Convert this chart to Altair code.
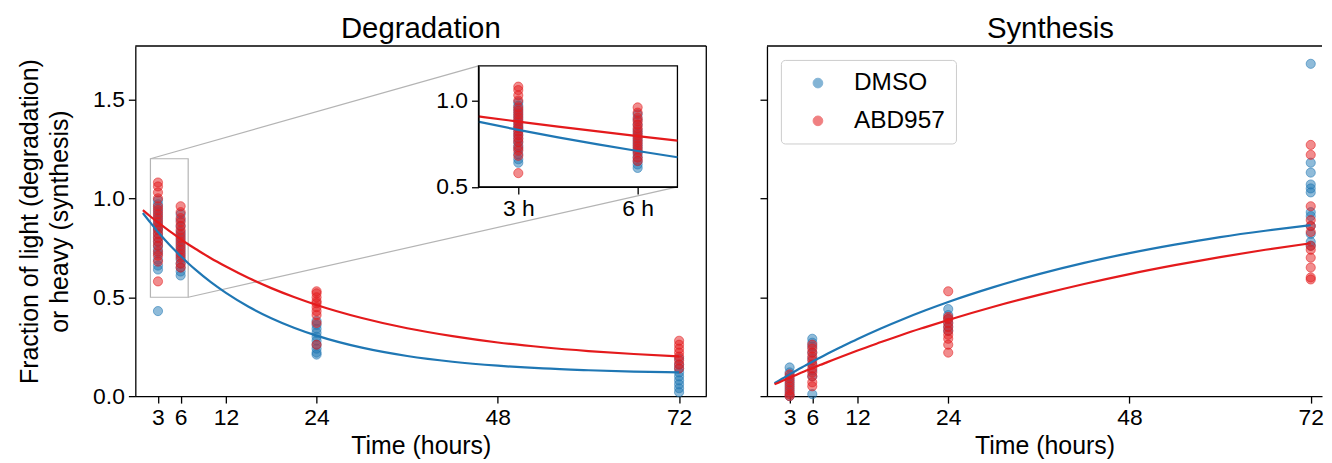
import altair as alt
import pandas as pd

FONT = "Liberation Sans"
BLUE = "#1f77b4"
RED = "#e41a1c"
GRAY = "#b4b4b4"

treatments = ["DMSO", "ABD957"]
treatment_colors = [BLUE, RED]
times = [3, 6, 24, 72]

# ---- Degradation: fraction of light label
deg_dmso_3h = [0.43, 0.64, 0.66, 0.69, 0.72, 0.74, 0.76, 0.78, 0.80, 0.82, 0.84, 0.85, 0.87, 0.89, 0.91, 0.93, 0.95, 0.97, 0.99]
deg_abd_3h = [0.58, 0.68, 0.71, 0.73, 0.76, 0.78, 0.80, 0.82, 0.84, 0.86, 0.88, 0.90, 0.92, 0.94, 0.96, 1.00, 1.03, 1.06, 1.08]
deg_dmso_6h = [0.61, 0.63, 0.65, 0.67, 0.69, 0.71, 0.73, 0.75, 0.77, 0.79, 0.81, 0.83, 0.86, 0.89, 0.92]
deg_abd_6h = [0.65, 0.67, 0.70, 0.72, 0.74, 0.76, 0.78, 0.80, 0.82, 0.84, 0.86, 0.88, 0.90, 0.93, 0.96]
deg_dmso_24h = [0.21, 0.22, 0.24, 0.26, 0.28, 0.30, 0.32, 0.34, 0.36, 0.38]
deg_abd_24h = [0.26, 0.37, 0.41, 0.43, 0.45, 0.47, 0.48, 0.50, 0.52, 0.53]
deg_dmso_72h = [0.02, 0.04, 0.06, 0.08, 0.10, 0.12, 0.14, 0.16, 0.19]
deg_abd_72h = [0.14, 0.16, 0.18, 0.20, 0.22, 0.24, 0.26, 0.28]

# ---- Synthesis: fraction of heavy label
syn_dmso_3h = [0.00, 0.02, 0.04, 0.06, 0.08, 0.10, 0.12, 0.145]
syn_abd_3h = [0.00, 0.01, 0.03, 0.05, 0.07, 0.09, 0.11]
syn_dmso_6h = [0.01, 0.10, 0.13, 0.16, 0.19, 0.22, 0.25, 0.27, 0.29]
syn_abd_6h = [0.05, 0.07, 0.10, 0.12, 0.14, 0.16, 0.18, 0.20, 0.22, 0.24, 0.26]
syn_dmso_24h = [0.33, 0.35, 0.37, 0.39, 0.41, 0.44]
syn_abd_24h = [0.22, 0.26, 0.29, 0.31, 0.33, 0.35, 0.37, 0.39, 0.40, 0.53]
syn_dmso_72h = [0.76, 0.78, 0.82, 0.86, 0.91, 0.93, 1.03, 1.05, 1.07, 1.13, 1.18, 1.68]
syn_abd_72h = [0.59, 0.60, 0.65, 0.70, 0.74, 0.76, 0.83, 0.86, 0.89, 0.96, 1.22, 1.27]

# ---- Fitted curves
fit_t = [1, 2, 3, 4, 5, 6, 7, 8, 10, 12, 15, 18, 21, 24, 30, 36, 42, 48, 54, 60, 66, 72]
deg_dmso_fit = [0.926, 0.877, 0.830, 0.787, 0.746, 0.708, 0.672, 0.638, 0.576, 0.522, 0.452, 0.394, 0.346, 0.306, 0.245, 0.203, 0.174, 0.154, 0.140, 0.131, 0.124, 0.120]
deg_abd_fit = [0.940, 0.908, 0.878, 0.849, 0.821, 0.794, 0.768, 0.744, 0.697, 0.655, 0.597, 0.546, 0.501, 0.461, 0.395, 0.343, 0.303, 0.271, 0.247, 0.228, 0.213, 0.201]
syn_dmso_fit = [0.065, 0.088, 0.110, 0.132, 0.153, 0.174, 0.194, 0.214, 0.252, 0.289, 0.341, 0.389, 0.434, 0.476, 0.551, 0.617, 0.674, 0.723, 0.766, 0.804, 0.836, 0.864]
syn_abd_fit = [0.060, 0.077, 0.093, 0.110, 0.126, 0.141, 0.157, 0.172, 0.202, 0.231, 0.272, 0.312, 0.349, 0.385, 0.452, 0.512, 0.567, 0.617, 0.662, 0.703, 0.740, 0.773]

# ---- Axes / ticks
x_ticks = [3, 6, 12, 24, 48, 72]
y_ticks = [0.0, 0.5, 1.0, 1.5]
x_domain = [0, 75.6]
y_domain = [0, 1.77]
inset_x_domain = [2, 7]
inset_y_domain = [0.5, 1.2]
inset_x_ticks = [3, 6]
inset_y_ticks = [0.5, 1.0]

# ---- Layout (pixels)
W, H = 574, 352
W2 = 558
IX0, IX1, IY0, IY1 = 345, 545, 20, 141.7
x_domain_right = [0, x_domain[1] * W2 / W]


def px(t):
    return t / x_domain[1] * W


def py(v):
    return H - v / y_domain[1] * H


def build_points(groups):
    rows = []
    for tr, series in groups:
        for t, vals in zip(times, series):
            for v in vals:
                rows.append({"treatment": tr, "t": t, "y": v})
    return pd.DataFrame(rows)


deg_pts = build_points([
    ("DMSO", [deg_dmso_3h, deg_dmso_6h, deg_dmso_24h, deg_dmso_72h]),
    ("ABD957", [deg_abd_3h, deg_abd_6h, deg_abd_24h, deg_abd_72h]),
])
syn_pts = build_points([
    ("DMSO", [syn_dmso_3h, syn_dmso_6h, syn_dmso_24h, syn_dmso_72h]),
    ("ABD957", [syn_abd_3h, syn_abd_6h, syn_abd_24h, syn_abd_72h]),
])
deg_fit = pd.DataFrame(
    [{"treatment": "DMSO", "t": t, "y": v} for t, v in zip(fit_t, deg_dmso_fit)]
    + [{"treatment": "ABD957", "t": t, "y": v} for t, v in zip(fit_t, deg_abd_fit)]
)
syn_fit = pd.DataFrame(
    [{"treatment": "DMSO", "t": t, "y": v} for t, v in zip(fit_t, syn_dmso_fit)]
    + [{"treatment": "ABD957", "t": t, "y": v} for t, v in zip(fit_t, syn_abd_fit)]
)
one = pd.DataFrame({"a": [0]})
zoom_box = pd.DataFrame({"x0": [inset_x_domain[0]], "x1": [inset_x_domain[1]],
                         "y0": [inset_y_domain[0]], "y1": [inset_y_domain[1]]})

color_scale = alt.Scale(domain=treatments, range=treatment_colors)

xs_main = alt.Scale(domain=x_domain, nice=False, zero=False)
xs_right = alt.Scale(domain=x_domain_right, nice=False, zero=False)
ys_main = alt.Scale(domain=y_domain, nice=False, zero=False)
xs_inset = alt.Scale(domain=inset_x_domain, range=[IX0, IX1], nice=False, zero=False)
ys_inset = alt.Scale(domain=inset_y_domain, range=[IY1, IY0], nice=False, zero=False)

xaxis_main = alt.Axis(values=x_ticks, title="Time (hours)", labelFlush=False,
                      labelOverlap=False, titlePadding=4)
yaxis_left = alt.Axis(values=y_ticks, format=".1f",
                      title=["Fraction of light (degradation)", "or heavy (synthesis)"],
                      titlePadding=20, titleLineHeight=30, labelFlush=False)
yaxis_right = alt.Axis(values=y_ticks, labels=False, title=None)
xaxis_inset = alt.Axis(orient="bottom", offset=-(H - IY1), values=inset_x_ticks,
                       labelExpr="datum.value + ' h'", title=None, zindex=1,
                       labelFlush=False, labelOverlap=False)
yaxis_inset = alt.Axis(orient="left", offset=-IX0, values=inset_y_ticks, format=".1f",
                       title=None, zindex=1, labelFlush=False)

legend_right = alt.Legend(title=None, orient="top-left", offset=14, padding=11,
                          strokeColor="#cccccc", cornerRadius=4, fillColor="white",
                          symbolType="circle", symbolSize=95, symbolOffset=14,
                          labelOffset=24, rowPadding=13, labelFontSize=24.5,
                          labelFont=FONT, labelColor="black", symbolOpacity=0.55,
                          symbolStrokeWidth=1)


def points(df, xs, ys, xa, ya, legend=None, flt=None):
    c = alt.Chart(df)
    if flt:
        c = c.transform_filter(flt)
    return c.mark_circle(size=85, opacity=1, fillOpacity=0.5, strokeOpacity=0.55,
                         strokeWidth=1).encode(
        x=alt.X("t:Q", scale=xs, axis=xa),
        y=alt.Y("y:Q", scale=ys, axis=ya),
        color=alt.Color("treatment:N", scale=color_scale, legend=legend),
        stroke=alt.Stroke("treatment:N", scale=color_scale, legend=None),
    )


def lines(df, xs, ys, xa, ya, flt=None):
    c = alt.Chart(df)
    if flt:
        c = c.transform_filter(flt)
    return c.mark_line(strokeWidth=2.2, interpolate="monotone").encode(
        x=alt.X("t:Q", scale=xs, axis=xa),
        y=alt.Y("y:Q", scale=ys, axis=ya),
        stroke=alt.Stroke("treatment:N", scale=color_scale, legend=None),
        detail="treatment:N",
    )


def rule(x, y, x2=None, y2=None, color="black", width=1.3):
    enc = {"x": alt.value(x), "y": alt.value(y)}
    if x2 is not None:
        enc["x2"] = alt.value(x2)
    if y2 is not None:
        enc["y2"] = alt.value(y2)
    return alt.Chart(one).mark_rule(color=color, strokeWidth=width).encode(**enc)


# ---------------- Left panel (Degradation) ----------------
gray_box = alt.Chart(zoom_box).mark_rect(fillOpacity=0, stroke=GRAY, strokeWidth=1.2).encode(
    x=alt.X("x0:Q", scale=xs_main, axis=xaxis_main),
    x2="x1",
    y=alt.Y("y0:Q", scale=ys_main, axis=yaxis_left),
    y2="y1",
)
main_layer = alt.layer(
    gray_box,
    rule(px(inset_x_domain[0]), py(inset_y_domain[1]), IX0, IY0, color=GRAY, width=1.2),
    rule(px(inset_x_domain[1]), py(inset_y_domain[0]), IX1, IY1, color=GRAY, width=1.2),
    points(deg_pts, xs_main, ys_main, xaxis_main, yaxis_left),
    lines(deg_fit, xs_main, ys_main, xaxis_main, yaxis_left),
    rule(0, 0, x2=W),
    rule(W, 0, y2=H),
)

frame = alt.Chart(one).mark_rect(fill="white", stroke="black", strokeWidth=1.3).encode(
    x=alt.value(IX0), x2=alt.value(IX1), y=alt.value(IY0), y2=alt.value(IY1)
)
inset_filter_pts = "datum.t >= 2 && datum.t <= 7 && datum.y >= 0.5 && datum.y <= 1.2"
inset_filter_fit = "datum.t >= 2 && datum.t <= 7"
inset_layer = alt.layer(
    frame,
    points(deg_pts, xs_inset, ys_inset, xaxis_inset, yaxis_inset, flt=inset_filter_pts),
    lines(deg_fit, xs_inset, ys_inset, xaxis_inset, yaxis_inset, flt=inset_filter_fit),
)

left = alt.layer(main_layer, inset_layer).resolve_scale(
    x="independent", y="independent"
).properties(width=W, height=H, title=alt.TitleParams("Degradation"))

# ---------------- Right panel (Synthesis) ----------------
right = alt.layer(
    points(syn_pts, xs_right, ys_main, xaxis_main, yaxis_right, legend=legend_right),
    lines(syn_fit, xs_right, ys_main, xaxis_main, yaxis_right),
    rule(0, 0, x2=W2),
).properties(width=W2, height=H, title=alt.TitleParams("Synthesis", dx=6))

chart = alt.hconcat(left, right, spacing=50).resolve_scale(
    color="independent", stroke="independent"
).properties(
    padding={"left": 9, "top": 4, "right": 0, "bottom": 0}
).configure_view(
    stroke="transparent"
).configure_axis(
    labelFont=FONT, titleFont=FONT, labelFontSize=23, titleFontSize=25,
    labelColor="black", titleColor="black", titleFontWeight="normal",
    domainColor="black", tickColor="black", domainWidth=1.3, tickWidth=1.3,
    tickSize=7, labelPadding=4, grid=False,
).configure_title(
    font=FONT, fontSize=29.5, fontWeight="normal", color="black",
    anchor="middle", offset=1, baseline="alphabetic",
)

chart.save("out.html", embed_options={"renderer": "svg", "actions": False})
